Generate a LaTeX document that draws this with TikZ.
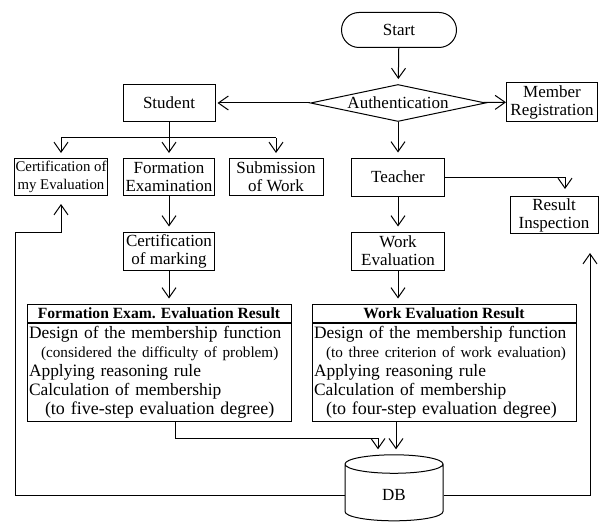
\documentclass[tikz,border=0pt]{standalone}
\usepackage{fontspec}
\setmainfont{Liberation Serif}
\usetikzlibrary{positioning,arrows.meta,shapes.geometric}
\newcommand{\notefont}{\fontsize{7.6}{9.5}\selectfont}
\newcommand{\degfont}{\fontsize{9}{9.5}\selectfont}

\begin{document}
\begin{tikzpicture}[x=0.5pt, y=-0.5pt, line width=0.5pt,
    >={Straight Barb[length=5pt,width=7pt]},
    font=\fontsize{8.5}{9}\selectfont,
    box/.style={draw, align=center, inner sep=0.5pt, minimum height=18.5pt},
    term/.style={draw, rounded corners=8.75pt, minimum width=57.5pt, minimum height=17.5pt},
    dec/.style={draw, diamond, aspect=4.5, inner sep=0pt, minimum width=87.5pt, minimum height=18.5pt},
    head/.style={draw, font=\fontsize{7.8}{9}\selectfont\bfseries, minimum width=132pt, minimum height=9pt, inner sep=0pt},
    body/.style={draw, font=\fontsize{8.7}{9.5}\selectfont, text width=130pt, align=left, minimum height=49pt, inner xsep=1pt, inner ysep=1pt},
    db/.style={draw, cylinder, shape border rotate=90, aspect=0.5, minimum width=49pt, minimum height=33pt},
    arr/.style={->, shorten >=2.5pt}]

    \useasboundingbox (0,0) rectangle (608,529);

    % top of the chart
    \node[term] (start) at (399,30) {Start};
    \node[dec] (auth) at (398,103) {Authentication};
    \node[box, minimum width=46pt] (student) at (169,103) {Student};
    \node[box, minimum width=45.5pt, minimum height=19.5pt] (member) at (552,102) {Member\\Registration};
    \draw[arr] (start) -- (auth);
    \draw[->, shorten >=1pt] (auth) -- (student);
    \draw[->] (auth) -- (member);

    % student side
    \node[box, minimum width=46.5pt, font=\fontsize{7.4}{9}\selectfont] (certeval) at (61,177) {Certification of\\my Evaluation};
    \node[box, minimum width=45.5pt] (formexam) at (169,177) {Formation\\Examination};
    \node[box, minimum width=47pt] (submit) at (276,177) {Submission\\of Work};
    \node[box, minimum width=45.5pt, minimum height=19pt] (certmark) at (169,251) {Certification\\of marking};
    \coordinate (split) at (169,138);
    \draw (student) -- (split);
    \draw (split -| certeval) -- (split -| submit);
    \foreach \n in {certeval,formexam,submit} \draw[arr] (split -| \n) -- (\n.north);
    \draw[arr] (formexam) -- (certmark);

    % teacher side
    \node[box, minimum width=46.5pt, minimum height=19pt] (teacher) at (398,177) {Teacher};
    \node[box, minimum width=44pt, minimum height=18.5pt] (resinsp) at (554,215) {Result\\Inspection};
    \node[box, minimum width=46.5pt, minimum height=19pt] (workeval) at (398,251) {Work\\Evaluation};
    \draw[arr] (auth) -- (teacher);
    \draw[->, shorten >=3.5pt] (teacher.east) -| ([xshift=5.5pt]resinsp.north);
    \draw[arr] (teacher) -- (workeval);

    % evaluation results
    \node[head] (formhead) at (159,313) {Formation Exam. Evaluation Result};
    \node[body, below=0pt of formhead] (formbody) {Design of the membership function\\
      \hspace*{6pt}\mbox{\notefont(considered the difficulty of problem)}\\
      Applying reasoning rule\\
      Calculation of membership\\
      \hspace*{8pt}\mbox{\degfont(to five-step evaluation degree)}};
    \node[head] (workhead) at (444,313) {Work Evaluation Result};
    \node[body, below=0pt of workhead] (workbody) {Design of the membership function\\
      \hspace*{6pt}\mbox{\notefont(to three criterion of work evaluation)}\\
      Applying reasoning rule\\
      Calculation of membership\\
      \hspace*{6pt}\mbox{\degfont(to four-step evaluation degree)}};
    \draw[arr] (certmark) -- (certmark |- formhead.north);
    \draw[arr] (workeval) -- (workeval |- workhead.north);

    % database and feedback
    \node[db] (db) at (394,495) {DB};
    \coordinate (dbin) at (378,438);
    \coordinate (lc) at (15,232);
    \draw[arr] ([xshift=8pt]formbody.south) |- (dbin) -- (dbin |- db.north);
    \draw[arr] ([xshift=-24pt]workbody.south) -- ([xshift=-24pt]workbody.south |- db.north);
    \draw[->, shorten >=4pt] (db.west) -| (lc) -| (certeval.south);
    \draw[->, shorten >=9.5pt] (db.east) -| ([xshift=18pt]resinsp.south);
\end{tikzpicture}
\end{document}
